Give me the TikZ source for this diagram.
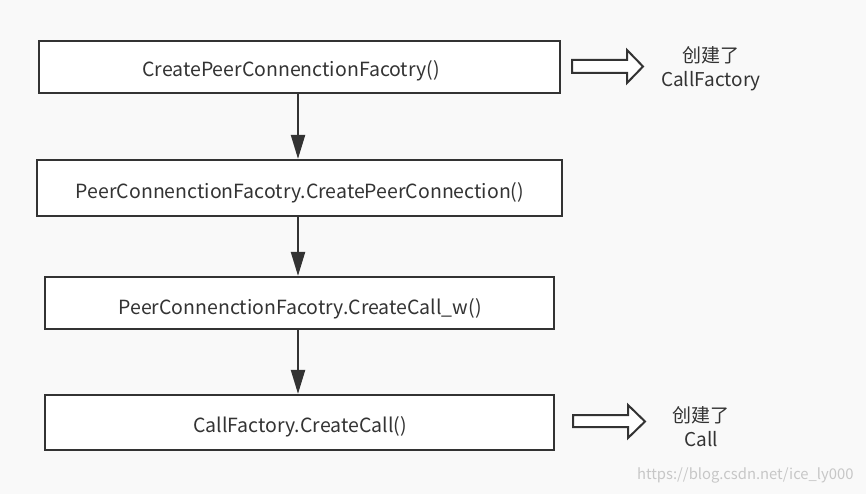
\documentclass[tikz,border=0pt]{standalone}
\usepackage{fontspec}
\setmainfont{Noto Sans CJK SC}
\usetikzlibrary{arrows.meta}
\definecolor{bg}{HTML}{F9F9F9}
\definecolor{ln}{HTML}{333333}
\begin{document}
\begin{tikzpicture}[x=1pt,y=-1pt,
  box/.style={draw=ln,line width=2.2pt,fill=white,inner sep=0pt},
  flow/.style={draw=ln,line width=2.2pt,-{Triangle[length=24pt,width=14pt]}},
  lbl/.style={font=\fontsize{19.5}{22}\selectfont,text=ln,anchor=base,inner sep=0pt},
  note/.style={font=\fontsize{19}{24}\selectfont,text=ln,align=center,anchor=base,inner sep=0pt},
  blk/.style={draw=ln,line width=2pt,fill=white,line join=miter}]
\fill[bg] (0,0) rectangle (866,494);
\useasboundingbox (0,0) rectangle (866,494);
\node[box,minimum width=521pt,minimum height=52pt] (b1) at (299.5,67) {};
\node[lbl] (t1) at (291,77) {CreatePeerConnenctionFacotry()};
\node[box,minimum width=525pt,minimum height=56pt] (b2) at (299.5,188) {};
\node[lbl] (t2) at (300,199) {PeerConnenctionFacotry.CreatePeerConnection()};
\node[box,minimum width=509pt,minimum height=52pt] (b3) at (299.5,303) {};
\node[lbl] (t3) at (300,314.5) {PeerConnenctionFacotry.CreateCall\_w()};
\node[box,minimum width=509pt,minimum height=55pt] (b4) at (299.5,422.5) {};
\node[lbl] (t4) at (300,432) {CallFactory.CreateCall()};
\draw[flow] (b1.south -| 298,0) -- (b2.north -| 298,0);
\draw[flow] (b2.south -| 298,0) -- (b3.north -| 298,0);
\draw[flow] (b3.south -| 298,0) -- (b4.north -| 298,0);
% block arrows
\draw[blk] (572,60) -- (627,60) -- (627,50) -- (643,66.5) -- (627,83) -- (627,73) -- (572,73) -- cycle;
\draw[blk] (573,415) -- (628,415) -- (628,405) -- (645,421.5) -- (628,438) -- (628,427) -- (573,427) -- cycle;
\node[note] (n1) at (711,87) {创建了\\CallFactory};
\node[note] (n2) at (701,446) {创建了\\Call};
\node[font=\fontsize{14.8}{18}\selectfont,text=black!22,anchor=east] (wm) at (857,475) {https://blog.csdn.net/ice\_ly000};
\end{tikzpicture}
\end{document}
